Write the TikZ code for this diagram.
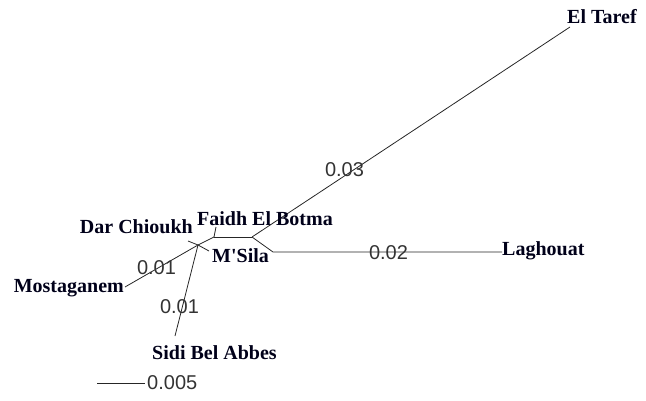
\documentclass[tikz,border=0pt]{standalone}
\usepackage{fontspec}
\setmainfont{Liberation Serif}
\newfontfamily\numfont{Liberation Sans}
\begin{document}
\begin{tikzpicture}[x=1pt,y=-1pt,
  branch/.style={draw=black!85,line width=0.8pt},
  taxon/.style={inner sep=0pt,font=\fontsize{20}{20}\selectfont\bfseries,text=black!90!blue},
  blen/.style={inner sep=0pt,font=\numfont\fontsize{20}{20}\selectfont,text=black!80}]
\useasboundingbox (0,0) rectangle (646,401);
% internal nodes
\coordinate (A) at (198,245);
\coordinate (B) at (214,237);
\coordinate (C) at (252,237);
\coordinate (D) at (273,252);
% tips
\coordinate (tDar) at (188,241);
\coordinate (tMsila) at (209,251);
\coordinate (tSidi) at (175,336);
\coordinate (tMost) at (125,287);
\coordinate (tFaidh) at (216,227);
\coordinate (tTaref) at (570,27);
\coordinate (tLag) at (502,252);
% branches
\draw[branch] (A) -- (tDar);
\draw[branch] (A) -- (tMsila);
\draw[branch] (A) -- (tSidi);
\draw[branch] (A) -- (tMost);
\draw[branch] (A) -- (B);
\draw[branch] (B) -- (tFaidh);
\draw[branch] (B) -- (C);
\draw[branch] (C) -- (tTaref);
\draw[branch] (C) -- (D) -- (tLag);
% labels
\node[taxon,anchor=west] (lTaref) at (567,17) {El Taref};
\node[taxon,anchor=west] (lFaidh) at (197,219) {Faidh El Botma};
\node[taxon,anchor=east] (lDar) at (193,227) {Dar Chioukh};
\node[taxon,anchor=west] (lMsila) at (212,256) {M\textquotesingle Sila};
\node[taxon,anchor=west] (lLag) at (502,251) {Laghouat};
\node[taxon,anchor=east] (lMost) at (124,288) {Mostaganem};
\node[taxon,anchor=west] (lSidi) at (152,353) {Sidi Bel Abbes};
% branch lengths
\node[blen] (n003) at (344.5,170) {0.03};
\node[blen] (n002) at (388.5,253) {0.02};
\node[blen] (n001a) at (156.5,268) {0.01};
\node[blen] (n001b) at (179.5,307) {0.01};
% scale bar
\coordinate (s1) at (97,383);
\coordinate (s2) at (145,383);
\draw[branch] (s1) -- (s2);
\node[blen,anchor=west] (nscale) at (147,383) {0.005};
\end{tikzpicture}
\end{document}
